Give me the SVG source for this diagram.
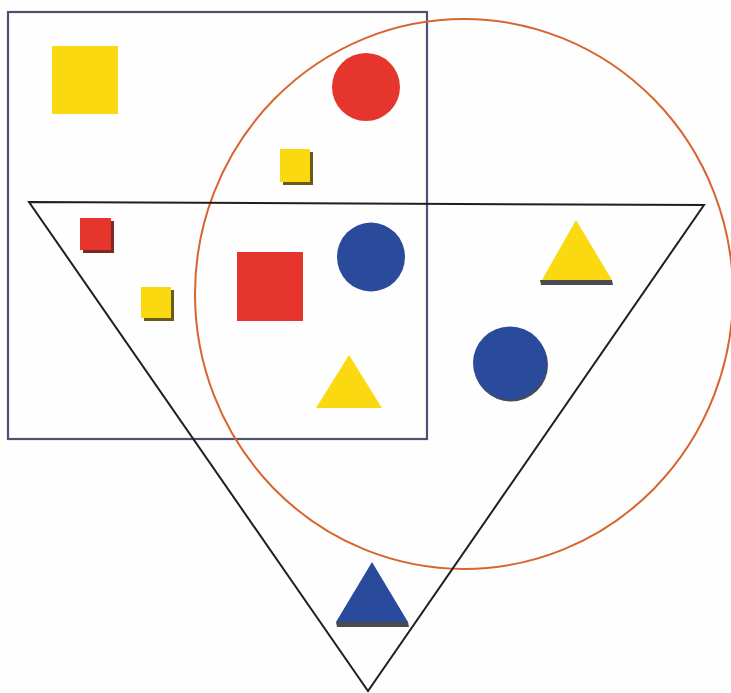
<svg xmlns="http://www.w3.org/2000/svg" width="731" height="693" viewBox="0 0 731 693">
<defs>
<style>
.yel{fill:#fbd911}
.red{fill:#e5352c}
.blu{fill:#2a4b9b}
.shy{fill:#6b5a18}
.shr{fill:#7a2a22}
.shg{fill:#4a4a52}
.set{fill:none}
</style>
</defs>
<rect width="731" height="693" fill="#fefefe"/>
<g id="set-rectangle"><rect class="set" x="8" y="12" width="419" height="427" stroke="#4e5272" stroke-width="2.2"/></g>
<g id="set-circle"><ellipse class="set" cx="464" cy="294" rx="269" ry="275" stroke="#d9652e" stroke-width="2"/></g>
<g id="set-triangle"><polygon class="set" points="29,202 704,205 368,691" stroke="#1e1e24" stroke-width="2" stroke-linejoin="miter"/></g>
<g id="yellow-square-large"><rect class="yel" x="52" y="46" width="66" height="68"/></g>
<g id="red-circle-small"><ellipse class="red" cx="366" cy="87" rx="34" ry="34"/></g>
<g id="yellow-square-small-1"><rect class="shy" x="283" y="152" width="30" height="33"/><rect class="yel" x="280" y="149" width="30" height="33"/></g>
<g id="red-square-small"><rect class="shr" x="83" y="221" width="31" height="32"/><rect class="red" x="80" y="218" width="31" height="32"/></g>
<g id="yellow-square-small-2"><rect class="shy" x="144" y="290" width="30" height="31"/><rect class="yel" x="141" y="287" width="30" height="31"/></g>
<g id="red-square-large"><rect class="red" x="237" y="252" width="66" height="69"/></g>
<g id="blue-circle-1"><ellipse class="blu" cx="371" cy="257" rx="34" ry="34.5"/></g>
<g id="yellow-triangle-1"><polygon class="shg" points="540,280 612,280 613,285 541,285"/><polygon class="yel" points="576,220 612,280 542,280"/></g>
<g id="yellow-triangle-2"><polygon class="yel" points="349,355 382,408 316,408"/></g>
<g id="blue-circle-2"><ellipse class="shg" cx="511" cy="365" rx="37" ry="36.5"/><ellipse class="blu" cx="510" cy="363" rx="37" ry="36.5"/></g>
<g id="blue-triangle"><polygon class="shg" points="336,622 408,622 409,627 337,627"/><polygon class="blu" points="372,562 408,622 336,622"/></g>
<g id="connectors"></g>
</svg>
